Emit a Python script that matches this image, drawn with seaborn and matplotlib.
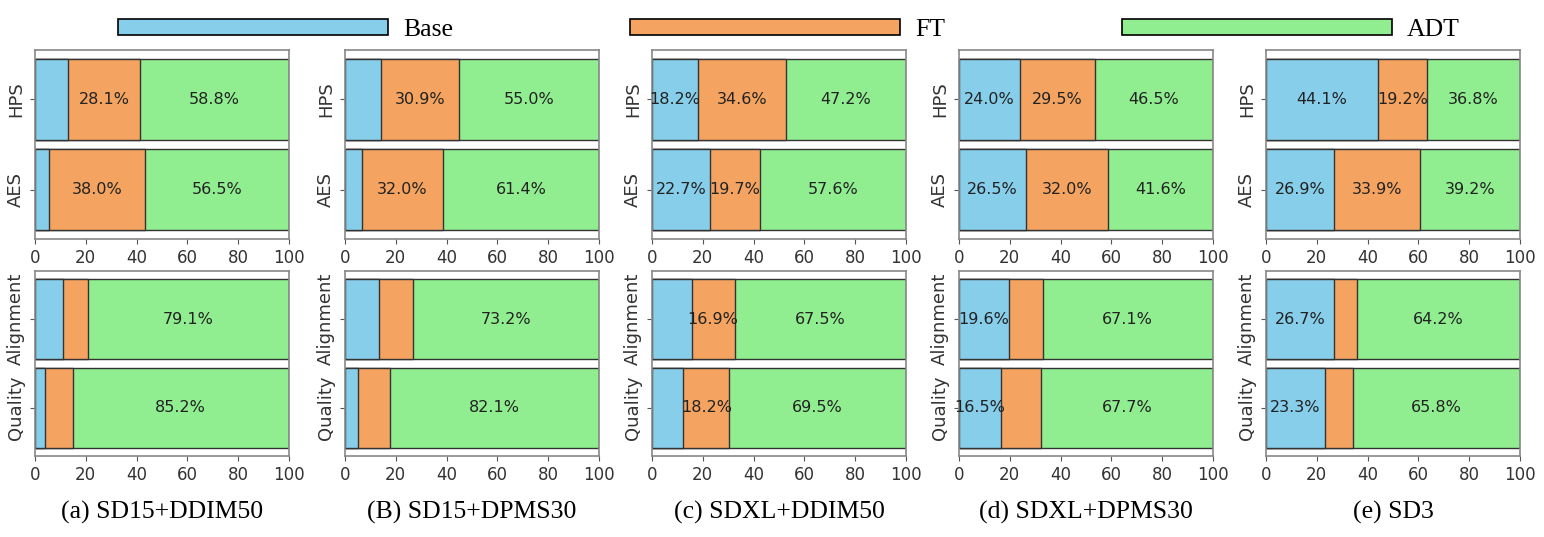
import matplotlib
matplotlib.use("Agg")
import matplotlib.pyplot as plt
from matplotlib.patches import Patch
import seaborn as sns

# Data (percent of preferences)
models = ["(a) SD15+DDIM50", "(B) SD15+DPMS30", "(c) SDXL+DDIM50",
          "(d) SDXL+DPMS30", "(e) SD3"]
top_metrics = ["HPS", "AES"]
bottom_metrics = ["Alignment", "Quality"]
methods = ["Base", "FT", "ADT"]

base_top = [[13.1, 5.5], [14.1, 6.6], [18.2, 22.7], [24.0, 26.5], [44.1, 26.9]]
ft_top = [[28.1, 38.0], [30.9, 32.0], [34.6, 19.7], [29.5, 32.0], [19.2, 33.9]]
adt_top = [[58.8, 56.5], [55.0, 61.4], [47.2, 57.6], [46.5, 41.6], [36.8, 39.2]]

base_bottom = [[11.0, 4.0], [13.3, 5.2], [15.6, 12.3], [19.6, 16.5], [26.7, 23.3]]
ft_bottom = [[9.9, 10.8], [13.5, 12.7], [16.9, 18.2], [13.3, 15.8], [9.1, 10.9]]
adt_bottom = [[79.1, 85.2], [73.2, 82.1], [67.5, 69.5], [67.1, 67.7], [64.2, 65.8]]

colors = ["#87CEEB", "#F4A460", "#90EE90"]
LABEL_MIN = 16  # segments narrower than this are left unlabeled


def stacked_panel(ax, metrics, base, ft, adt):
    low = list(base)
    mid = [b + f for b, f in zip(base, ft)]
    top = [b + f + a for b, f, a in zip(base, ft, adt)]
    # draw cumulative layers from widest to narrowest so they read as stacked
    for vals, col in zip([top, mid, low], colors[::-1]):
        sns.barplot(x=vals, y=metrics, orient="h", color=col, saturation=1,
                    width=0.9, edgecolor="#333333", linewidth=1.0, ax=ax)
    for i in range(len(metrics)):
        segs = [(0, base[i]), (base[i], ft[i]), (base[i] + ft[i], adt[i])]
        for start, w in segs:
            if w >= LABEL_MIN:
                ax.text(start + w / 2, i, f"{w:.1f}%", ha="center", va="center",
                        fontsize=11.5, color="#222222")
    ax.set_xlim(0, 100)
    ax.set_ylim(1.545, -0.545)
    ax.set_xticks([0, 20, 40, 60, 80, 100])
    ax.set_xlabel("")
    ax.set_ylabel("")
    ax.tick_params(axis="x", labelsize=12, colors="#555555", labelcolor="#333333")
    ax.tick_params(axis="y", labelsize=13, colors="#555555", labelcolor="#333333")
    for lab in ax.get_yticklabels():
        lab.set_rotation(90)
        lab.set_va("center")
    for sp in ax.spines.values():
        sp.set_color("#888888")
        sp.set_linewidth(1.2)


fig = plt.figure(figsize=(15.44, 5.37), dpi=100)
W, H = 1544, 537
lefts = [35, 345, 652, 959, 1266]
ax_w = 254

for k in range(5):
    ax_top = fig.add_axes([lefts[k] / W, 1 - 239 / H, ax_w / W, 189 / H])
    stacked_panel(ax_top, top_metrics, base_top[k], ft_top[k], adt_top[k])
    ax_bot = fig.add_axes([lefts[k] / W, 1 - 456 / H, ax_w / W, 185 / H])
    stacked_panel(ax_bot, bottom_metrics, base_bottom[k], ft_bottom[k], adt_bottom[k])
    fig.text((lefts[k] + ax_w / 2) / W, 1 - 512 / H, models[k], ha="center",
             va="center", fontsize=18.5, family="Liberation Serif")

handles = [Patch(facecolor=c, edgecolor="black", linewidth=1.2) for c in colors]
fig.legend(handles, methods, loc="center", bbox_to_anchor=(789 / W, 1 - 30 / H),
           ncol=3, frameon=False, handlelength=10.5, handleheight=0.58,
           handletextpad=0.58, columnspacing=6.9,
           prop={"family": "Liberation Serif", "size": 18.5})

fig.savefig("out.png", dpi=100)
